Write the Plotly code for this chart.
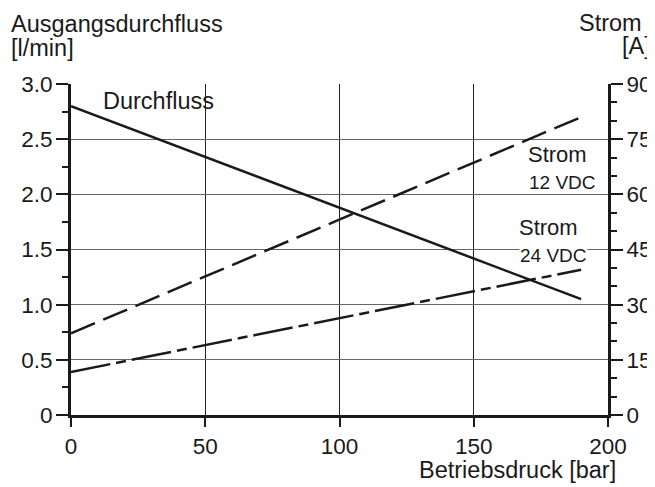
import plotly.graph_objects as go

# Betriebsdruck [bar]
druck = [0, 190]
# Ausgangsdurchfluss [l/min]
durchfluss = [2.8, 1.05]
# Strom [A]
strom_12vdc = [22.2, 81.0]
strom_24vdc = [11.7, 39.5]

x_ticks = [0, 50, 100, 150, 200]
y_ticks = [0, 0.5, 1.0, 1.5, 2.0, 2.5, 3.0]
y_ticktext = ['0', '0.5', '1.0', '1.5', '2.0', '2.5', '3.0']
y2_ticks = [0, 15, 30, 45, 60, 75, 90]

FONT = 'Liberation Sans, Arial, sans-serif'
INK = '#1a1a1a'

fig = go.Figure()
fig.add_trace(go.Scatter(x=druck, y=durchfluss, mode='lines',
                         line=dict(color=INK, width=2.5), yaxis='y'))
fig.add_trace(go.Scatter(x=druck, y=strom_12vdc, mode='lines',
                         line=dict(color=INK, width=2.5, dash='26px,9px'), yaxis='y2'))
fig.add_trace(go.Scatter(x=druck, y=strom_24vdc, mode='lines',
                         line=dict(color=INK, width=2.5, dash='40px,6px,10px,6px'), yaxis='y2'))

# the page body has an 8px margin, so the figure is 8px smaller than the window
fig.update_layout(
    width=647, height=479,
    margin=dict(l=63, r=47, t=76, b=72),
    paper_bgcolor='white', plot_bgcolor='white',
    showlegend=False,
    font=dict(family=FONT, size=22, color=INK),
    xaxis=dict(range=[0, 200], tickvals=x_ticks, showgrid=True, gridcolor='#222', gridwidth=1,
               zeroline=False, showline=True, linecolor=INK, linewidth=3, automargin=False,
               ticks='outside', ticklen=9, tickwidth=2, tickcolor=INK,
               tickfont=dict(size=22.5)),
    yaxis=dict(range=[0, 3], tickvals=y_ticks, ticktext=y_ticktext, showgrid=True,
               gridcolor='#666', gridwidth=1, zeroline=False, showline=True, automargin=False,
               linecolor=INK, linewidth=3, ticks='outside', ticklen=12, tickwidth=1.5,
               tickcolor=INK, ticklabelstandoff=-1, tickfont=dict(size=22.5),
               minor=dict(dtick=0.25, ticks='outside', ticklen=6, tickcolor=INK, showgrid=False)),
    yaxis2=dict(range=[0, 90], tickvals=y2_ticks, overlaying='y', side='right', automargin=False,
                showgrid=False, zeroline=False, showline=True, linecolor=INK, linewidth=3,
                ticks='outside', ticklen=12, tickwidth=1.5, tickcolor=INK,
                ticklabelstandoff=-1, tickfont=dict(size=22.5),
                minor=dict(dtick=5, ticks='outside', ticklen=6, tickcolor=INK, showgrid=False)),
)

notes = [
    dict(text='Durchfluss', x=11.5, y=2.85, xref='x', yref='y', xanchor='left', size=23.5),
    dict(text='Strom', x=192.5, y=2.357, xref='x', yref='y', xanchor='right', size=22),
    dict(text='12 VDC', x=195.9, y=2.11, xref='x', yref='y', xanchor='right', size=19),
    dict(text='Strom', x=189.2, y=1.695, xref='x', yref='y', xanchor='right', size=22),
    dict(text='24 VDC', x=192.5, y=1.45, xref='x', yref='y', xanchor='right', size=19, bg='white'),
    dict(text='Ausgangsdurchfluss', x=-0.1136, y=1.181, xref='paper', yref='paper', xanchor='left', size=23.5),
    dict(text='[l/min]', x=-0.1136, y=1.109, xref='paper', yref='paper', xanchor='left', size=23.5),
    dict(text='Strom', x=1.065, y=1.184, xref='paper', yref='paper', xanchor='right', size=23.5),
    dict(text='[A]', x=1.082, y=1.115, xref='paper', yref='paper', xanchor='right', size=23.5),
    dict(text='Betriebsdruck [bar]', x=1.017, y=-0.166, xref='paper', yref='paper', xanchor='right', size=23.5),
]
for n in notes:
    fig.add_annotation(text=n['text'], x=n['x'], y=n['y'], xref=n['xref'], yref=n['yref'],
                       xanchor=n['xanchor'], yanchor='middle', showarrow=False,
                       font=dict(family=FONT, size=n['size'], color=INK),
                       bgcolor=n.get('bg', 'rgba(0,0,0,0)'), borderpad=0)

fig.write_html('out.html')
